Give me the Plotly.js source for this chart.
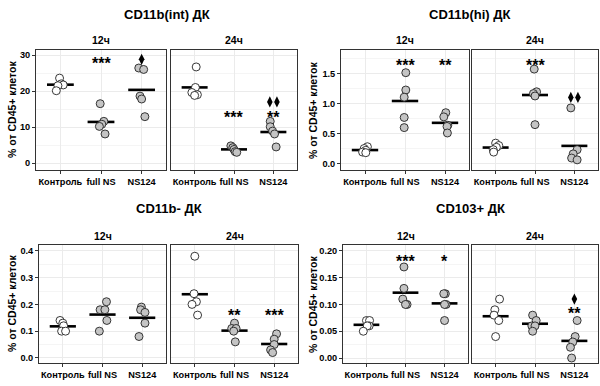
<!DOCTYPE html>
<html><head><meta charset="utf-8">
<script src="https://cdn.plot.ly/plotly-3.0.1.min.js"></script>
<style>html,body{margin:0;padding:0;background:#fff}#chart{width:600px;height:386px}</style>
</head><body><div id="chart"></div>
<script>
// ---------- data ----------
const categories = ['Контроль', 'full NS', 'NS124'];
const facets = ['12ч', '24ч'];
const groupTitles = ['CD11b(int) ДК', 'CD11b(hi) ДК', 'CD11b- ДК', 'CD103+ ДК'];
const yAxisLabel = '% от CD45+ клеток';

// values per panel: [Контроль, full NS, NS124]
const cd11bInt12 = [[23.6, 22.0, 21.7, 21.5, 20.1], [16.5, 11.6, 10.8, 10.2, 8.1], [26.4, 26.0, 18.6, 17.8, 12.9]];
const cd11bInt24 = [[26.7, 21.0, 19.6, 19.0, 18.8], [4.8, 4.3, 3.8, 3.2, 3.0], [11.6, 10.1, 8.9, 8.1, 4.5]];
const cd11bHi12 = [[0.28, 0.25, 0.22, 0.19, 0.18], [1.52, 1.23, 1.11, 0.77, 0.60], [0.85, 0.78, 0.64, 0.62, 0.51]];
const cd11bHi24 = [[0.34, 0.30, 0.27, 0.23, 0.19], [1.58, 1.20, 1.17, 1.13, 0.65], [0.93, 0.23, 0.16, 0.09, 0.06]];
const cd11bNeg12 = [[0.14, 0.13, 0.12, 0.10, 0.10], [0.21, 0.18, 0.18, 0.14, 0.10], [0.19, 0.18, 0.17, 0.13, 0.08]];
const cd11bNeg24 = [[0.38, 0.24, 0.21, 0.20, 0.16], [0.13, 0.11, 0.11, 0.10, 0.06], [0.09, 0.07, 0.05, 0.03, 0.02]];
const cd103_12 = [[0.07, 0.07, 0.06, 0.06, 0.05], [0.17, 0.13, 0.11, 0.10, 0.10], [0.12, 0.12, 0.10, 0.10, 0.07]];
const cd103_24 = [[0.11, 0.09, 0.08, 0.07, 0.04], [0.08, 0.07, 0.06, 0.06, 0.05], [0.07, 0.04, 0.03, 0.02, 0.00]];

// significance per panel: [Контроль, full NS, NS124] (stars text, number of diamonds)
const starsInt12 = ['', '***', ''];   const diamInt12 = [0, 0, 1];
const starsInt24 = ['', '***', '**']; const diamInt24 = [0, 0, 2];
const starsHi12 = ['', '***', '**'];  const diamHi12 = [0, 0, 0];
const starsHi24 = ['', '***', ''];    const diamHi24 = [0, 0, 2];
const starsNeg12 = ['', '', ''];      const diamNeg12 = [0, 0, 0];
const starsNeg24 = ['', '**', '***']; const diamNeg24 = [0, 0, 0];
const starsD12 = ['', '***', '*'];    const diamD12 = [0, 0, 0];
const starsD24 = ['', '', '**'];      const diamD24 = [0, 0, 1];

// ---------- jitter (horizontal point offsets, category units) ----------
const jitInt12 = [[-0.02, 0.02, 0.07, -0.06, -0.10], [-0.02, 0.07, 0.02, -0.04, 0.10], [-0.07, 0.05, -0.04, 0.00, 0.08]];
const jitInt24 = [[0.04, 0.02, -0.07, 0.07, 0.00], [-0.08, -0.03, 0.00, 0.03, 0.07], [-0.08, -0.08, -0.02, 0.03, 0.07]];
const jitHi12 = [[0.06, -0.02, 0.02, -0.06, 0.02], [0.02, 0.02, -0.02, -0.02, -0.02], [0.02, -0.03, 0.07, 0.05, 0.06]];
const jitHi24 = [[0.00, 0.08, 0.02, -0.06, -0.05], [-0.02, 0.04, -0.04, 0.00, 0.00], [-0.09, 0.07, -0.03, -0.07, 0.07]];
const jitNeg12 = [[-0.07, 0.00, 0.02, -0.03, 0.07], [0.10, -0.06, 0.06, 0.11, -0.08], [-0.02, -0.04, 0.07, 0.07, -0.08]];
const jitNeg24 = [[0.00, -0.02, 0.04, -0.07, 0.07], [0.00, -0.07, 0.04, -0.02, 0.02], [0.06, 0.00, 0.00, -0.09, -0.04]];
const jitD12 = [[0.00, 0.08, 0.07, 0.02, -0.08], [-0.04, -0.04, -0.07, 0.04, 0.00], [0.02, -0.02, 0.04, 0.00, 0.00]];
const jitD24 = [[0.10, -0.02, -0.04, 0.08, 0.00], [-0.06, 0.03, -0.08, 0.00, -0.06], [0.07, 0.02, -0.04, -0.10, -0.07]];

// ---------- layout config ----------
const W = 600, H = 386;
const groups = [
  {title: groupTitles[0], rows: [50, 170], cols: [[36, 166], [171, 297]], range: [-1.9, 31.4], dtick: 10, fmt: 'd', titleY: 14, facetY: 40, ylabX: 12,
   panels: [[cd11bInt12, jitInt12, starsInt12, diamInt12], [cd11bInt24, jitInt24, starsInt24, diamInt24]],
   starY: [[0, 28.8, 28.8], [0, 13.8, 13.8]], diamY: [[0, 0, 28.8], [0, 0, 17.0]]},
  {title: groupTitles[1], rows: [50, 170], cols: [[341, 469], [472, 598]], range: [-0.11, 1.9], dtick: 0.5, fmt: '.1f', titleY: 14, facetY: 40, ylabX: 313,
   panels: [[cd11bHi12, jitHi12, starsHi12, diamHi12], [cd11bHi24, jitHi24, starsHi24, diamHi24]],
   starY: [[0, 1.70, 1.70], [0, 1.70, 0]], diamY: [[0, 0, 0], [0, 0, 1.105]]},
  {title: groupTitles[2], rows: [245, 363], cols: [[39, 166], [171, 298]], range: [-0.019, 0.422], dtick: 0.1, fmt: '.1f', titleY: 208, facetY: 236, ylabX: 12,
   panels: [[cd11bNeg12, jitNeg12, starsNeg12, diamNeg12], [cd11bNeg24, jitNeg24, starsNeg24, diamNeg24]],
   starY: [[0, 0, 0], [0, 0.173, 0.173]], diamY: [[0, 0, 0], [0, 0, 0]]},
  {title: groupTitles[3], rows: [245, 363], cols: [[343, 468], [472, 598]], range: [-0.0093, 0.211], dtick: 0.05, fmt: '.2f', titleY: 208, facetY: 236, ylabX: 313,
   panels: [[cd103_12, jitD12, starsD12, diamD12], [cd103_24, jitD24, starsD24, diamD24]],
   starY: [[0, 0.188, 0.188], [0, 0, 0.09]], diamY: [[0, 0, 0], [0, 0, 0.11]]}
];

const FONT = 'Liberation Sans, Arial, sans-serif';
const fills = ['#ffffff', '#c4c4c4', '#c4c4c4'];
const traces = [];
const layout = {
  width: W, height: H, margin: {l: 0, r: 0, t: 0, b: 0},
  paper_bgcolor: '#fff', plot_bgcolor: '#fff', showlegend: false,
  font: {family: FONT, color: '#000'}, annotations: []
};

let k = 0;
groups.forEach((g, gi) => {
  g.panels.forEach((p, pi) => {
    k++;
    const xa = 'x' + k, ya = 'y' + k;
    const [vals, jit, stars, diams] = p;
    const col = g.cols[pi];
    layout['xaxis' + k] = {
      domain: [col[0] / W, col[1] / W], anchor: ya, range: [0.4, 3.6],
      tickmode: 'array', tickvals: [1, 2, 3], ticktext: categories,
      showgrid: true, gridcolor: '#ebebeb', gridwidth: 1, zeroline: false,
      showline: true, mirror: true, linecolor: '#333', linewidth: 1,
      ticks: 'outside', ticklen: 3, tickcolor: '#333',
      tickfont: {family: FONT, size: 9.2, color: '#000', weight: 'bold'}, fixedrange: true
    };
    layout['yaxis' + k] = {
      domain: [1 - g.rows[1] / H, 1 - g.rows[0] / H], anchor: xa, range: g.range,
      dtick: g.dtick, tick0: 0, tickformat: g.fmt,
      showgrid: true, gridcolor: '#ebebeb', gridwidth: 1, zeroline: false,
      minor: {dtick: g.dtick / 2, showgrid: true, gridcolor: '#f5f5f5', gridwidth: 1, ticks: ''},
      showline: true, mirror: true, linecolor: '#333', linewidth: 1,
      ticks: pi === 0 ? 'outside' : '', ticklen: 3, tickcolor: '#333',
      showticklabels: pi === 0,
      tickfont: {family: FONT, size: 9.2, color: '#000', weight: 'bold'}, fixedrange: true
    };
    layout.annotations.push({
      xref: 'paper', yref: 'paper', x: (col[0] + col[1]) / 2 / W, y: 1 - g.facetY / H,
      text: facets[pi], showarrow: false, xanchor: 'center', yanchor: 'middle',
      font: {family: FONT, size: 10.5, color: '#000', weight: 'bold'}
    });
    vals.forEach((arr, ci) => {
      const mean = arr.reduce((a, b) => a + b, 0) / arr.length;
      traces.push({
        type: 'scatter', mode: 'lines', xaxis: xa, yaxis: ya, hoverinfo: 'skip',
        x: [ci + 1 - 0.33, ci + 1 + 0.33], y: [mean, mean],
        line: {color: '#000', width: 2.6}
      });
      traces.push({
        type: 'scatter', mode: 'markers', xaxis: xa, yaxis: ya,
        x: arr.map((v, i) => ci + 1 + jit[ci][i]), y: arr,
        marker: {size: 8, color: fills[ci], line: {color: '#222', width: 0.9}}
      });
      if (stars[ci]) {
        layout.annotations.push({
          xref: xa, yref: ya, x: ci + 1, y: g.starY[pi][ci], text: stars[ci], showarrow: false,
          xanchor: 'center', yanchor: 'middle', yshift: -4,
          font: {family: FONT, size: 16, color: '#000', weight: 'bold'}
        });
      }
      if (diams[ci] > 0) {
        const n = diams[ci];
        const dx = [];
        for (let i = 0; i < n; i++) dx.push(ci + 1 + (i - (n - 1) / 2) * 0.18);
        traces.push({
          type: 'scatter', mode: 'markers', xaxis: xa, yaxis: ya, hoverinfo: 'skip',
          x: dx, y: dx.map(() => g.diamY[pi][ci]),
          marker: {symbol: 'diamond-tall', size: 8, color: '#000', line: {width: 0}}
        });
      }
    });
  });
  const c0 = g.cols[0][0], c1 = g.cols[1][1];
  layout.annotations.push({
    xref: 'paper', yref: 'paper', x: (c0 + c1) / 2 / W, y: 1 - g.titleY / H,
    text: g.title, showarrow: false, xanchor: 'center', yanchor: 'middle',
    font: {family: FONT, size: 13, color: '#000', weight: 'bold'}
  });
  layout.annotations.push({
    xref: 'paper', yref: 'paper', x: g.ylabX / W, y: 1 - (g.rows[0] + g.rows[1]) / 2 / H,
    text: yAxisLabel, showarrow: false, textangle: -90, xanchor: 'center', yanchor: 'middle',
    font: {family: FONT, size: 10.5, color: '#000', weight: 'bold'}
  });
});

Plotly.newPlot('chart', traces, layout, {displayModeBar: false, staticPlot: true});
</script>
</body></html>
